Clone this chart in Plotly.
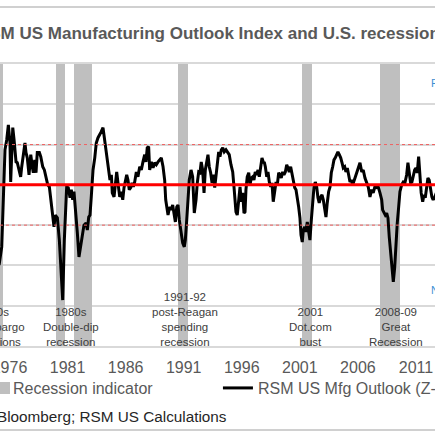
import plotly.graph_objects as go

# RSM US Mfg Outlook (Z-score) as (decimal year, value)
outlook_years = [
    1975.10, 1975.33, 1975.61, 1975.76, 1975.90, 1976.04, 1976.10, 1976.19, 1976.28, 1976.39,
    1976.56, 1976.67, 1976.84, 1976.96, 1977.05, 1977.19, 1977.33, 1977.42, 1977.53, 1977.68,
    1977.83, 1977.96, 1978.05, 1978.17, 1978.28, 1978.39, 1978.57, 1978.69, 1978.86, 1979.00,
    1979.14, 1979.29, 1979.43, 1979.57, 1979.72, 1979.83, 1979.94, 1980.12, 1980.29, 1980.43,
    1980.58, 1980.72, 1980.84, 1980.92, 1981.06, 1981.21, 1981.32, 1981.44, 1981.55, 1981.67,
    1981.84, 1981.98, 1982.13, 1982.27, 1982.41, 1982.59, 1982.70, 1982.82, 1982.93, 1983.04,
    1983.19, 1983.34, 1983.47, 1983.62, 1983.77, 1983.90, 1984.05, 1984.20, 1984.33, 1984.42,
    1984.54, 1984.65, 1984.77, 1984.85, 1985.00, 1985.11, 1985.23, 1985.34, 1985.49, 1985.63,
    1985.75, 1985.86, 1985.97, 1986.09, 1986.20, 1986.31, 1986.44, 1986.55, 1986.66, 1986.78,
    1986.92, 1987.06, 1987.21, 1987.35, 1987.49, 1987.64, 1987.75, 1987.86, 1987.98, 1988.07,
    1988.21, 1988.36, 1988.50, 1988.64, 1988.79, 1988.93, 1989.07, 1989.22, 1989.36, 1989.45,
    1989.56, 1989.65, 1989.79, 1989.93, 1990.05, 1990.16, 1990.28, 1990.40, 1990.51, 1990.62,
    1990.77, 1990.91, 1991.05, 1991.14, 1991.26, 1991.37, 1991.48, 1991.63, 1991.77, 1991.91,
    1992.06, 1992.17, 1992.29, 1992.40, 1992.51, 1992.63, 1992.75, 1992.86, 1992.98, 1993.09,
    1993.20, 1993.32, 1993.44, 1993.55, 1993.67, 1993.78, 1993.89, 1994.01, 1994.12, 1994.24,
    1994.36, 1994.49, 1994.64, 1994.79, 1994.92, 1995.07, 1995.22, 1995.33, 1995.41, 1995.50,
    1995.61, 1995.73, 1995.85, 1995.96, 1996.08, 1996.19, 1996.28, 1996.36, 1996.47, 1996.60,
    1996.71, 1996.82, 1996.94, 1997.05, 1997.16, 1997.28, 1997.40, 1997.51, 1997.63, 1997.74,
    1997.85, 1997.95, 1998.03, 1998.15, 1998.26, 1998.37, 1998.49, 1998.60, 1998.71, 1998.83,
    1998.95, 1999.06, 1999.18, 1999.29, 1999.40, 1999.52, 1999.63, 1999.75, 1999.87, 1999.98,
    2000.09, 2000.21, 2000.32, 2000.44, 2000.56, 2000.67, 2000.78, 2000.90, 2001.01, 2001.10,
    2001.21, 2001.30, 2001.42, 2001.53, 2001.64, 2001.76, 2001.87, 2001.99, 2002.11, 2002.22,
    2002.33, 2002.45, 2002.56, 2002.67, 2002.80, 2002.91, 2003.02, 2003.14, 2003.25, 2003.36,
    2003.48, 2003.60, 2003.71, 2003.83, 2003.94, 2004.05, 2004.17, 2004.28, 2004.40, 2004.52,
    2004.63, 2004.74, 2004.86, 2004.97, 2005.09, 2005.21, 2005.32, 2005.43, 2005.55, 2005.75,
    2005.89, 2006.03, 2006.18, 2006.33, 2006.46, 2006.61, 2006.76, 2006.89, 2007.04, 2007.18,
    2007.32, 2007.46, 2007.61, 2007.75, 2007.90, 2008.05, 2008.13, 2008.24, 2008.36, 2008.48,
    2008.59, 2008.70, 2008.82, 2008.93, 2009.05, 2009.17, 2009.28, 2009.39, 2009.51, 2009.62,
    2009.77, 2009.91, 2010.05, 2010.20, 2010.31, 2010.42, 2010.54, 2010.65, 2010.77, 2010.89,
    2011.00, 2011.11, 2011.23, 2011.34, 2011.45, 2011.58, 2011.69, 2011.80, 2011.92, 2012.03,
    2012.14, 2012.26, 2012.37, 2012.48, 2012.60, 2012.75,
]
outlook_z = [
    -1.99, -1.54, 0.87, 1.12, 1.49, 1.04, 0.07, 0.87, 1.42, 1.12,
    0.57, 0.55, 0.37, 0.20, 0.45, 0.80, 1.04, 0.80, 0.67, 0.25,
    0.75, 0.45, 0.30, 0.62, 0.30, 0.80, 0.80, 0.70, 0.45, 0.37,
    0.17, 0.00, -0.05, -0.37, -0.75, -1.04, -0.75, -0.82, -1.37, -2.29,
    -2.86, -1.37, -0.37, -0.05, -0.07, -0.32, -0.12, -0.37, -0.17, -0.55,
    -1.19, -1.79, -1.54, -1.29, -1.00, -0.95, -1.12, -0.80, -0.75, -0.30,
    0.37, 0.67, 1.04, 1.17, 1.24, 1.32, 1.42, 1.12, 0.87, 0.62,
    0.37, 0.12, 0.25, -0.20, -0.30, 0.00, 0.32, 0.05, -0.30, -0.17,
    -0.37, -0.07, 0.12, 0.25, 0.12, -0.12, -0.07, 0.05, -0.05, 0.07,
    0.32, 0.20, 0.45, 0.37, 0.57, 0.75, 0.57, 0.92, 0.95, 0.37,
    0.57, 0.42, 0.55, 0.50, 0.57, 0.62, 0.67, 0.45, 0.12, -0.37,
    -0.62, -0.75, -0.55, -0.62, -0.50, -0.75, -0.92, -0.55, -0.50, -0.87,
    -1.19, -1.44, -1.54, -1.37, -0.87, -0.37, 0.12, 0.37, 0.20, -0.70,
    -0.37, 0.05, 0.32, 0.30, 0.57, 0.37, -0.20, 0.37, 0.57, 0.75,
    0.45, 0.30, 0.05, 0.25, -0.07, 0.20, 0.57, 0.82, 0.70, 0.87,
    0.92, 0.82, 0.87, 0.80, 0.75, 0.50, 0.32, -0.05, -0.45, -0.67,
    -0.75, -0.30, -0.05, -0.42, -0.20, -0.70, -0.67, -0.12, 0.20, 0.30,
    0.00, 0.17, 0.20, 0.12, 0.32, 0.25, 0.37, 0.20, 0.45, 0.67,
    0.57, 0.55, 0.45, 0.20, 0.32, 0.07, -0.05, 0.05, -0.42, -0.12,
    0.07, 0.00, 0.30, 0.25, 0.17, 0.32, 0.25, 0.32, 0.50, 0.42,
    0.32, 0.45, 0.30, 0.12, -0.07, -0.12, -0.30, -0.55, -0.82, -1.24,
    -1.42, -1.12, -1.04, -1.17, -0.92, -1.17, -1.37, -0.87, -0.42, -0.05,
    0.07, -0.05, -0.32, -0.45, -0.30, -0.25, -0.37, -0.55, -0.80, -0.45,
    -0.17, -0.05, 0.30, 0.45, 0.62, 0.67, 0.75, 0.82, 0.75, 0.67,
    0.55, 0.42, 0.45, 0.32, 0.42, 0.25, 0.07, 0.12, 0.00, 0.17,
    0.30, 0.37, 0.55, 0.32, 0.37, 0.17, 0.07, -0.05, -0.30, -0.12,
    -0.20, -0.05, -0.07, -0.05, -0.20, -0.37, -0.62, -0.67, -0.75, -0.70,
    -0.82, -1.29, -1.69, -1.94, -2.41, -2.04, -1.44, -0.95, -0.55, -0.17,
    0.00, 0.07, 0.05, 0.25, 0.55, 0.32, 0.05, 0.07, 0.25, 0.37,
    0.42, 0.30, 0.70, 0.07, -0.20, -0.42, -0.25, -0.32, -0.12, 0.17,
    0.12, -0.12, -0.30, -0.37, -0.32, -0.20,
]

# recession shading (start / end as decimal years)
recession_start = [1973.83, 1980.00, 1981.55, 1990.51, 2001.18, 2007.90]
recession_end = [1975.44, 1980.78, 1983.08, 1991.37, 2002.05, 2009.62]

# text under the recessions
recession_labels = [
    "1970s<br>Oil embargo<br>recessions",
    "1980s<br>Double-dip<br>recession",
    "1991-92<br>post-Reagan<br>spending<br>recession",
    "2001<br>Dot.com<br>bust",
    "2008-09<br>Great<br>Recession",
]
label_years = [1974.58, 1981.30, 1991.11, 2001.94, 2009.27]

tick_years = [1976, 1981, 1986, 1991, 1996, 2001, 2006, 2011]
x_range = [1975.18, 2012.64]

font_name = "Liberation Sans, Arial, sans-serif"

# plot area sits inside the figure via domains, so all paper coords stay in [0, 1]
plot_domain = [0.2046, 0.8529]

rec_mid = [(s + e) / 2 for s, e in zip(recession_start, recession_end)]
rec_width = [e - s for s, e in zip(recession_start, recession_end)]

fig = go.Figure()

fig.add_trace(go.Bar(
    x=rec_mid, y=[1] * len(rec_mid), width=rec_width,
    marker=dict(color="#bfbfbf", line=dict(width=0)),
    name="Recession indicator", yaxis="y", showlegend=False,
))

fig.add_trace(go.Scatter(
    x=outlook_years, y=outlook_z, mode="lines",
    line=dict(color="black", width=3),
    name="RSM US Mfg Outlook (Z-Score)", yaxis="y2",
))

# mean and +/- 1 std lines
fig.add_shape(type="line", xref="paper", x0=0, x1=1, yref="y2", y0=0, y1=0,
              line=dict(color="#ff0000", width=3), layer="above")
for lvl in [1, -1]:
    fig.add_shape(type="line", xref="paper", x0=0, x1=1, yref="y2", y0=lvl, y1=lvl,
                  line=dict(color="#f06060", width=1, dash="3px,3px"), layer="above")

# frame rules above the title and below the source line
for yy in [0.9839, 0.0115]:
    fig.add_shape(type="line", xref="paper", x0=0, x1=1, yref="paper", y0=yy, y1=yy,
                  line=dict(color="#d0d0d0", width=2))

for txt, yr in zip(recession_labels, label_years):
    if yr < x_range[0]:
        # label sits left of the visible range: pin it to the edge and push it out
        ann = dict(x=x_range[0], xanchor="right", xshift=27)
    else:
        ann = dict(x=yr, xanchor="center")
    fig.add_annotation(xref="x", y=plot_domain[0], yref="paper", yanchor="bottom", yshift=-4,
                       text=txt, showarrow=False, align="center",
                       font=dict(size=11.5, color="#404040", family=font_name), **ann)

# title (cropped in the original)
fig.add_annotation(x=0, xref="paper", xanchor="left", xshift=-25,
                   y=0.9241, yref="paper", yanchor="middle",
                   text="<b>RSM US Manufacturing Outlook Index and U.S. recessions</b>",
                   showarrow=False, font=dict(size=17, color="#595959", family=font_name))

fig.add_annotation(x=0.526, xref="paper", xanchor="right",
                   y=0.043, yref="paper", yanchor="middle",
                   text="Source: Bloomberg; RSM US Calculations",
                   showarrow=False, font=dict(size=15.3, color="#262626", family=font_name))

# blue side labels (cut by the right edge)
fig.add_annotation(x=1, xref="paper", xanchor="left", xshift=-6,
                   y=0.8094, yref="paper", yanchor="middle", text="Recession",
                   showarrow=False, font=dict(size=11, color="#3b8fd4", family=font_name))
fig.add_annotation(x=1, xref="paper", xanchor="left", xshift=-6,
                   y=0.3336, yref="paper", yanchor="middle", text="No recession",
                   showarrow=False, font=dict(size=11, color="#3b8fd4", family=font_name))

# legend entry for the recession shading (square sits right at the edge)
fig.add_shape(type="rect", xref="paper", yref="paper",
              x0=-0.005, x1=0.023, y0=0.0943, y1=0.1218,
              fillcolor="#bfbfbf", line=dict(width=0))
fig.add_annotation(x=0.025, xref="paper", xanchor="left",
                   y=0.108, yref="paper", yanchor="middle",
                   text="Recession indicator", showarrow=False,
                   font=dict(size=16, color="#595959", family=font_name))

fig.update_layout(
    width=435, height=435,
    margin=dict(l=0, r=0, t=0, b=0, autoexpand=False),
    paper_bgcolor="white", plot_bgcolor="white",
    font=dict(family=font_name, color="#595959"),
    showlegend=True,
    bargap=0,
    legend=dict(orientation="h", x=0.501, xanchor="left", y=0.108, yanchor="middle",
                font=dict(size=16, color="#595959", family=font_name),
                bgcolor="rgba(0,0,0,0)"),
    xaxis=dict(range=x_range, tickmode="array", tickvals=tick_years,
               ticktext=[str(t) for t in tick_years], showgrid=False, zeroline=False,
               showline=True, mirror=True, linecolor="#d9d9d9", linewidth=1.5,
               ticks="", ticklabelstandoff=6, ticklabeloverflow="allow",
               tickfont=dict(size=16, color="#595959")),
    yaxis=dict(range=[0, 1], domain=plot_domain, visible=False, showgrid=False,
               fixedrange=True),
    yaxis2=dict(range=[-4, 3], domain=plot_domain, overlaying="y", side="right",
                dtick=1, tick0=0, showgrid=True, gridcolor="#d9d9d9", gridwidth=1.5,
                zeroline=False, showticklabels=False),
)

fig.write_html("out.html", config={"displayModeBar": False},
               post_script="document.body.style.margin='0';")
